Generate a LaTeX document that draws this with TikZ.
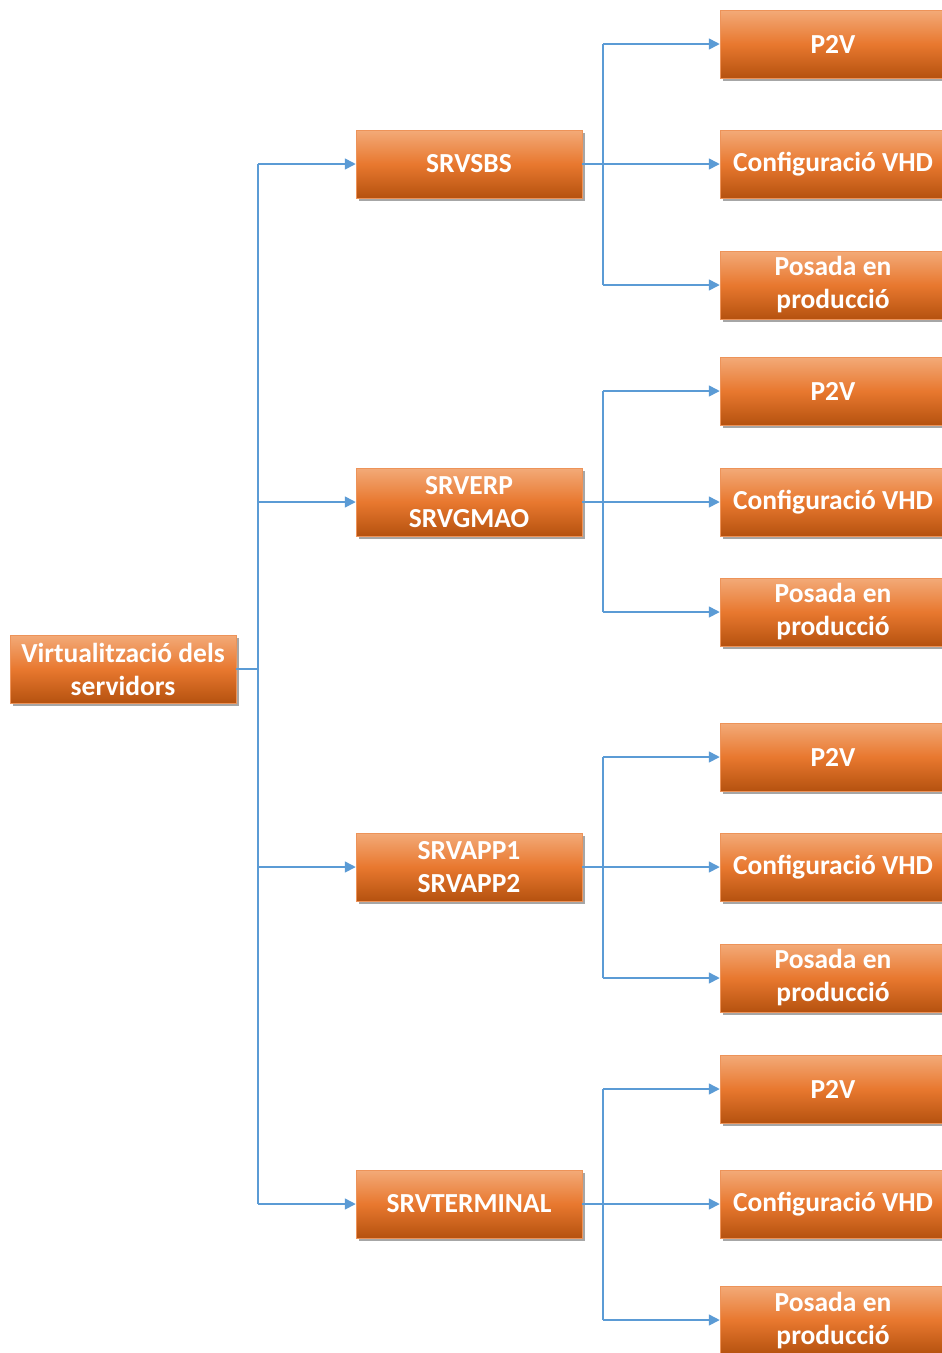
\documentclass[tikz,border=0pt]{standalone}
\usepackage{fontspec}
\setmainfont{Carlito}
\usetikzlibrary{shadows,arrows.meta}
\definecolor{otop}{HTML}{F3AA78}
\definecolor{omid}{HTML}{E8782F}
\definecolor{obot}{HTML}{B5520F}
\definecolor{lblue}{HTML}{5B9BD5}
\tikzset{
  box/.style={rectangle, minimum width=226pt, minimum height=68pt, inner sep=0pt,
    top color=otop, bottom color=obot, middle color=omid, draw=omid!80!white, line width=0.5pt,
    drop shadow={shadow xshift=3pt, shadow yshift=-3pt, opacity=0.35, fill=black},
    text=white, font=\fontsize{27.5}{33}\selectfont\bfseries, align=center},
  conn/.style={draw=lblue, line width=1.6pt, -{Triangle[length=11pt,width=11pt]}},
  trunk/.style={draw=lblue, line width=1.6pt}
}
\begin{document}
\begin{tikzpicture}[x=1pt,y=-1pt]
\useasboundingbox (0,0) rectangle (942,1353);
\clip (0,0) rectangle (942,1353);
\fill[white] (0,0) rectangle (942,1353);
\node[box] (root) at (123,669) {Virtualització dels\\servidors};
\node[box] (a) at (469,164) {SRVSBS};
\node[box] (b) at (469,502) {SRVERP\\SRVGMAO};
\node[box] (c) at (469,867) {SRVAPP1\\SRVAPP2};
\node[box] (d) at (469,1204) {SRVTERMINAL};
\node[box] (a1) at (833,44) {P2V};
\node[box] (a2) at (833,164) {Configuració VHD};
\node[box] (a3) at (833,285) {Posada en\\producció};
\node[box] (b1) at (833,391) {P2V};
\node[box] (b2) at (833,502) {Configuració VHD};
\node[box] (b3) at (833,612) {Posada en\\producció};
\node[box] (c1) at (833,757) {P2V};
\node[box] (c2) at (833,867) {Configuració VHD};
\node[box] (c3) at (833,978) {Posada en\\producció};
\node[box] (d1) at (833,1089) {P2V};
\node[box] (d2) at (833,1204) {Configuració VHD};
\node[box] (d3) at (833,1320) {Posada en\\producció};
\coordinate (rj) at (258,669);
\draw[trunk] (root.east) -- (rj);
\draw[trunk] (258,164) -- (258,1204);
\foreach \n in {a,b,c,d}{
  \draw[conn] (rj |- \n.west) -- (\n.west);
}
\foreach \n in {a,b,c,d}{
  \coordinate (\n j) at ([xshift=21pt]\n.east);
  \draw[trunk] (\n.east) -- (\n j);
  \draw[trunk] (\n j |- \n1.west) -- (\n j |- \n3.west);
  \foreach \k in {1,2,3}{
    \draw[conn] (\n j |- \n\k.west) -- (\n\k.west);
  }
}
\end{tikzpicture}
\end{document}
